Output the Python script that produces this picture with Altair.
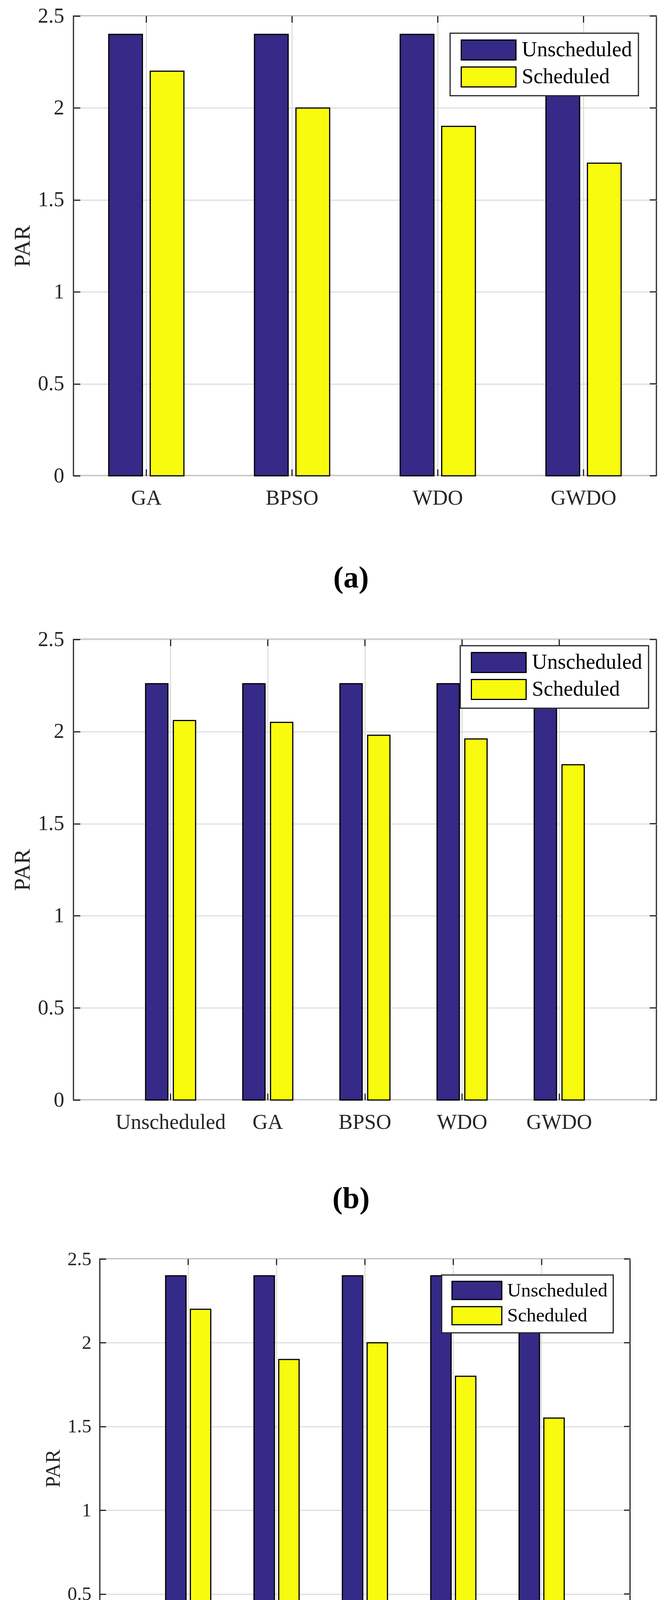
import altair as alt
import pandas as pd

FONT = "Liberation Serif"
series = ["Unscheduled", "Scheduled"]
colors = ["#352a87", "#f9fb0e"]
y_ticks = [0, 0.5, 1, 1.5, 2, 2.5]

# panel (a)
cats_a = ["GA", "BPSO", "WDO", "GWDO"]
unsched_a = [2.4, 2.4, 2.4, 2.4]
sched_a = [2.2, 2.0, 1.9, 1.7]

# panel (b)
cats_b = ["Unscheduled", "GA", "BPSO", "WDO", "GWDO"]
unsched_b = [2.26, 2.26, 2.26, 2.26, 2.26]
sched_b = [2.06, 2.05, 1.98, 1.96, 1.82]

# panel (c)
cats_c = ["Unscheduled", "GA", "BPSO", "WDO", "GWDO"]
unsched_c = [2.4, 2.4, 2.4, 2.4, 2.4]
sched_c = [2.2, 1.9, 2.0, 1.8, 1.55]

captions = ["(a)", "(b)", "(c)"]

AXIS_COLOR = "#262626"
GRID_COLOR = "#dfdfdf"


def panel(cats, unsched, sched, caption, W, H, s, outer_pad, xo_inner, xo_outer,
          leg_x, leg_y, title_x, cap_pad):
    df = pd.DataFrame({
        "category": list(cats) * 2,
        "series": [series[0]] * len(cats) + [series[1]] * len(cats),
        "value": list(unsched) + list(sched),
    })
    df_cat = pd.DataFrame({"category": list(cats)})
    df_tick = pd.DataFrame({"tickv": y_ticks})
    fs = 54 * s
    tick = 17 * s
    sw = 140 * s
    sh = 51 * s
    k = sw / sh
    xs = alt.Scale(domain=cats, paddingInner=0, paddingOuter=outer_pad)
    ys = alt.Scale(domain=[0, 2.5], nice=False, zero=True)
    xos = alt.Scale(domain=series, paddingInner=xo_inner, paddingOuter=xo_outer)
    cs = alt.Scale(domain=series, range=colors)

    legend = alt.Legend(
        orient="none", legendX=leg_x, legendY=leg_y, title=None,
        symbolType=f"M{-k:.4f},-1H{k:.4f}V1H{-k:.4f}Z", symbolSize=sh * sh,
        symbolStrokeColor="black", symbolStrokeWidth=3, symbolOpacity=1,
        labelFont=FONT, labelFontSize=fs, labelColor="black", labelLimit=0,
        symbolOffset=55.5 * s, labelOffset=58 * s, padding=16 * s, rowPadding=5 * s,
        strokeColor=AXIS_COLOR, fillColor="white",
    )
    bottom = alt.Axis(
        title=caption, titleFont=FONT, titleFontSize=78, titleFontWeight="bold",
        titleColor="black", titlePadding=cap_pad, titleX=title_x, titleAlign="center",
        labelFont=FONT, labelFontSize=fs, labelColor=AXIS_COLOR, labelAngle=0,
        labelPadding=30 * s, labelLimit=0, labelOverlap=False,
        ticks=True, tickSize=tick, tickWidth=3, tickColor=AXIS_COLOR, offset=-tick,
        domain=False, grid=True, gridColor=GRID_COLOR, gridWidth=3, bandPosition=0.5,
    )
    left = alt.Axis(
        title="PAR", titleFont=FONT, titleFontSize=58 * s, titleFontWeight="normal",
        titleColor=AXIS_COLOR, titlePadding=9.5 * s,
        values=y_ticks, format="~g",
        labelFont=FONT, labelFontSize=fs, labelColor=AXIS_COLOR, labelPadding=24 * s,
        ticks=True, tickSize=tick, tickWidth=3, tickColor=AXIS_COLOR, offset=-tick,
        domain=False, grid=True, gridColor=GRID_COLOR, gridWidth=3,
    )
    bars = alt.Chart(df).mark_bar(stroke="black", strokeWidth=3).encode(
        x=alt.X("category:N", sort=list(cats), scale=xs, axis=bottom),
        xOffset=alt.XOffset("series:N", sort=series, scale=xos),
        y=alt.Y("value:Q", scale=ys, axis=left),
        color=alt.Color("series:N", sort=series, scale=cs, legend=legend),
    )
    # inward ticks on the top edge (at the category positions)
    top_ticks = alt.Chart(df_cat).mark_rule(color=AXIS_COLOR, strokeWidth=3).encode(
        x=alt.X("category:N", sort=list(cats), scale=xs, axis=None),
        y=alt.value(0), y2=alt.value(tick),
    )
    # inward ticks on the right edge (at the y tick values)
    right_ticks = alt.Chart(df_tick).mark_rule(color=AXIS_COLOR, strokeWidth=3).encode(
        y=alt.Y("tickv:Q", scale=ys, axis=None),
        x=alt.value(W - tick), x2=alt.value(W),
    )
    return alt.layer(bars, top_ticks, right_ticks).resolve_axis(
        x="independent", y="independent"
    ).properties(width=W, height=H)


pa = panel(cats_a, unsched_a, sched_a, captions[0], 1492, 1177, 1.0, 0.0, 0.188, 0.85,
           964, 44, 710, 139.5)
pb = panel(cats_b, unsched_b, sched_b, captions[1], 1492, 1179, 1.0, 0.5, 0.197, 0.85,
           990, 16, 710, 130.5)
pc = panel(cats_c, unsched_c, sched_c, captions[2], 1357, 1072, 0.91, 0.5, 0.175, 0.875,
           875, 41, 645, 130.5)

chart = alt.concat(
    pa, pb, pc, columns=1, spacing=87,
    center={"row": False, "column": True},
    align={"row": "each", "column": "each"},
).resolve_scale(
    color="independent", xOffset="independent", x="independent", y="independent"
).resolve_legend(color="independent").properties(
    padding={"left": 19, "top": 4, "right": 5, "bottom": 5}
).configure_view(
    stroke=AXIS_COLOR, strokeWidth=3
).configure_legend(strokeWidth=3)

chart.save("out.html", embed_options={"renderer": "svg", "actions": False})
